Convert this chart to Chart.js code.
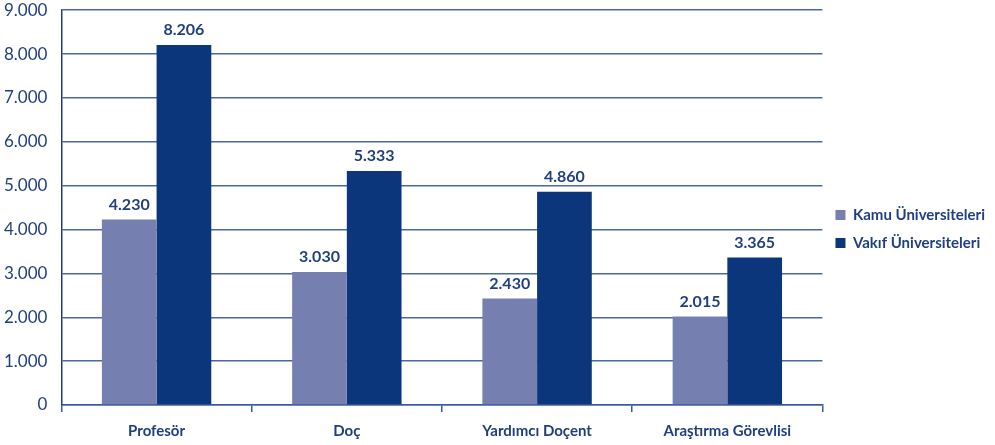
<!DOCTYPE html>
<html>
<head>
<meta charset="utf-8">
<script src="https://cdn.jsdelivr.net/npm/chart.js@4/dist/chart.umd.min.js"></script>
<style>
  html, body { margin:0; padding:0; background:#fff; overflow:hidden; }
  #wrap { width:1005px; height:459px; margin-left:-10px; margin-top:-14px; }
</style>
</head>
<body>
<div id="wrap"><canvas id="chart"></canvas></div>
<script>
const categories = ["Profesör", "Doç", "Yardımcı Doçent", "Araştırma Görevlisi"];
const kamu  = [4230, 3030, 2430, 2015];
const vakif = [8206, 5333, 4860, 3365];
const seriesNames = ["Kamu Üniversiteleri", "Vakıf Üniversiteleri"];

const textColor = "#1f3f80";
const fontFam = "Lato";
const fmt = v => String(v).replace(/\B(?=(\d{3})+(?!\d))/g, ".");

const valueLabels = {
  id: "valueLabels",
  afterDatasetsDraw(chart) {
    const ctx = chart.ctx;
    ctx.save();
    ctx.fillStyle = textColor;
    ctx.font = "bold 16px " + fontFam;
    ctx.textAlign = "center";
    ctx.textBaseline = "bottom";
    chart.data.datasets.forEach((ds, i) => {
      chart.getDatasetMeta(i).data.forEach((bar, j) => {
        ctx.fillText(fmt(ds.data[j]), bar.x, bar.y - 7);
      });
    });
    ctx.restore();
  }
};

new Chart(document.getElementById("chart").getContext("2d"), {
  type: "bar",
  data: {
    labels: categories,
    datasets: [
      { label: seriesNames[0], data: kamu,  backgroundColor: "#7580b0" },
      { label: seriesNames[1], data: vakif, backgroundColor: "#0b367c" },
    ],
  },
  options: {
    responsive: true,
    maintainAspectRatio: false,
    animation: false,
    layout: { padding: { top: 0, right: 0, bottom: -5, left: 0 } },
    datasets: { bar: { categoryPercentage: 0.575, barPercentage: 1 } },
    plugins: {
      tooltip: { enabled: false },
      legend: {
        position: "right",
        title: { display: true, text: " ", font: { size: 10 }, padding: 5 },
        labels: {
          color: textColor,
          font: { family: fontFam, size: 15, weight: "bold" },
          boxWidth: 10, boxHeight: 10, padding: 13,
        },
      },
    },
    scales: {
      x: {
        grid: { offset: true, drawOnChartArea: false, drawTicks: true, tickLength: 7, color: "#3b5d9e", lineWidth: 1.5 },
        border: { color: "#3b5d9e", width: 1.5 },
        ticks: { color: textColor, font: { family: fontFam, size: 15, weight: "bold" }, padding: 10 },
      },
      y: {
        min: 0, max: 9000,
        grid: { color: "#4a69a8", lineWidth: 1.5, drawTicks: false },
        border: { color: "#1f3f80", width: 1.5 },
        ticks: { stepSize: 1000, color: textColor, font: { family: fontFam, size: 17 }, padding: 14, callback: v => fmt(v) },
      },
    },
  },
  plugins: [valueLabels],
});
</script>
</body>
</html>
